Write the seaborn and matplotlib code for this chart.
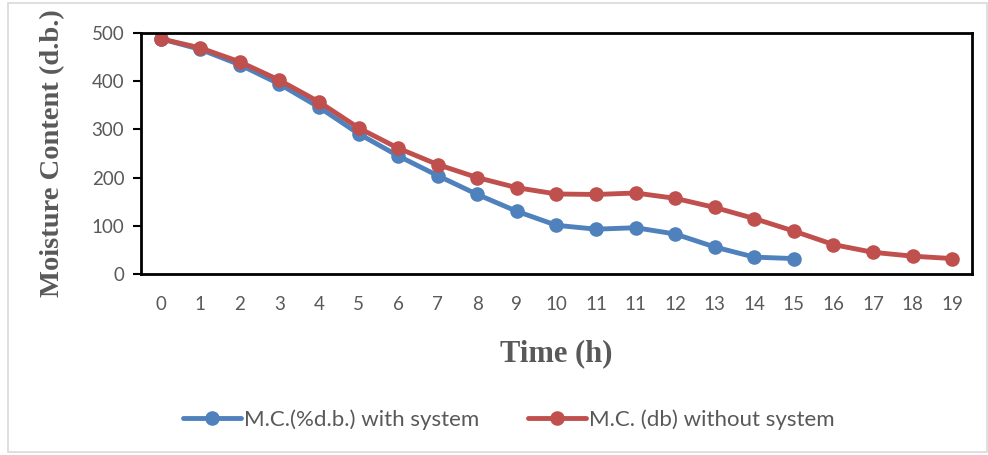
import matplotlib
matplotlib.use("Agg")
import matplotlib.pyplot as plt
import seaborn as sns
import pandas as pd
from matplotlib.patches import Rectangle

# ---- data ----
time_labels = ["0", "1", "2", "3", "4", "5", "6", "7", "8", "9", "10",
               "11", "11", "12", "13", "14", "15", "16", "17", "18", "19"]
with_system = [488, 466, 434, 394, 346, 291, 245, 204, 165, 130, 101,
               93, 96, 83, 56, 35, 32]
without_system = [488, 469, 440, 402, 357, 303, 261, 227, 200, 179, 166,
                  165, 168, 157, 138, 115, 89, 61, 45, 37, 32]
series_names = ["M.C.(%d.b.) with system", "M.C. (db) without system"]
colors = ["#4F81BD", "#C0504D"]

rows = []
for i, v in enumerate(with_system):
    rows.append({"pos": i, "value": v, "series": series_names[0]})
for i, v in enumerate(without_system):
    rows.append({"pos": i, "value": v, "series": series_names[1]})
df = pd.DataFrame(rows)

sns.set_theme(style="white")
plt.rcParams["font.family"] = ["Lato", "DejaVu Sans"]

fig = plt.figure(figsize=(9.88, 4.55), dpi=100)
ax = fig.add_axes([0.1427, 0.3978, 0.9838 - 0.1427, 0.9275 - 0.3978])

sns.lineplot(data=df, x="pos", y="value", hue="series", palette=colors,
             marker="o", markersize=10.5, markeredgewidth=0, linewidth=3.5,
             ax=ax, legend=True, sort=False)

ax.set_xlim(-0.5, len(time_labels) - 0.5)
ax.set_ylim(0, 500)
ax.set_xticks(range(len(time_labels)))
ax.set_xticklabels(time_labels)
ax.set_yticks([0, 100, 200, 300, 400, 500])
ax.tick_params(axis="y", which="both", left=True, length=6, width=1.5,
               color="black", labelsize=13.5, labelcolor="#595959", pad=6)
ax.tick_params(axis="x", bottom=False, labelsize=13.5, labelcolor="#595959", pad=10)
for sp in ax.spines.values():
    sp.set_visible(True)
    sp.set_color("black")
    sp.set_linewidth(2)

serif = ["Liberation Serif", "DejaVu Serif"]
ax.set_ylabel("Moisture Content (d.b.)", family=serif, fontweight="bold",
              fontsize=20.5, color="#595959", labelpad=19)
ax.set_xlabel("Time (h)", family=serif, fontweight="bold", fontsize=22,
              color="#595959", labelpad=19)
ax.grid(False)

handles, labels = ax.get_legend_handles_labels()
ax.get_legend().remove()
fig.legend(handles, labels, loc="center", bbox_to_anchor=(0.515, 0.078), ncol=2,
           frameon=False, fontsize=16, labelcolor="#595959", handlelength=2.6,
           handletextpad=0.15, columnspacing=2.2)

fig.patches.append(Rectangle((8 / 988, 3 / 455), 1 - 9 / 988, 1 - 6 / 455,
                             transform=fig.transFigure, fill=False,
                             edgecolor="#D9D9D9", linewidth=1.2))

fig.savefig("out.png", dpi=100)
